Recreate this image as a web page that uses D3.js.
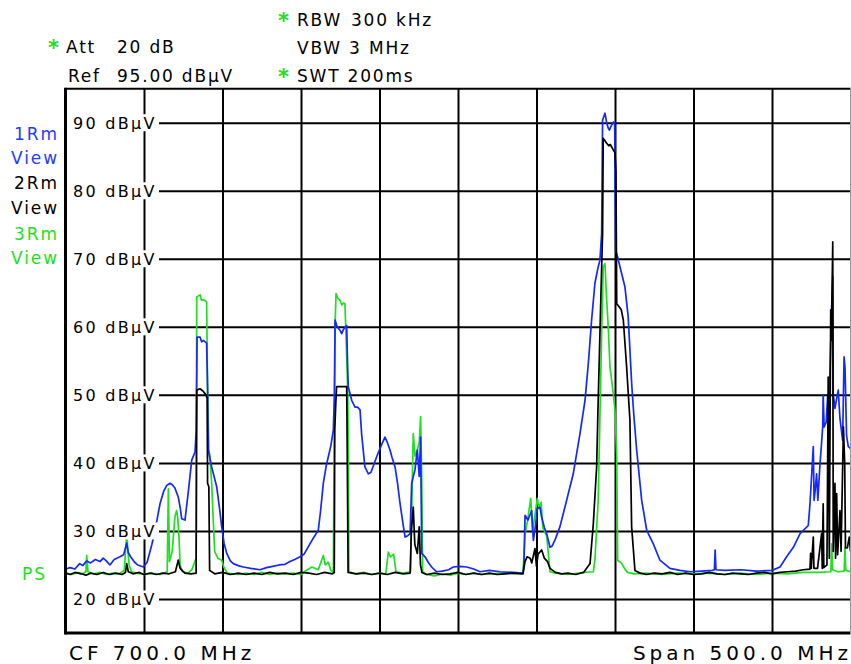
<!DOCTYPE html>
<html><head><meta charset="utf-8">
<script src="https://cdn.jsdelivr.net/npm/d3@7"></script>
<style>
body{margin:0;background:#fff;}
svg text{font-family:"DejaVu Sans",Verdana,sans-serif;}
</style></head><body>
<svg id="c" width="851" height="664"></svg>
<script>
// ---- data ----
const freqDomain = [450, 950];        // CF 700 MHz, span 500 MHz
const levelDomain = [15, 95];         // dBµV, Ref 95
const xGrid = [500, 550, 600, 650, 700, 750, 800, 850, 900];
const yTicks = [90, 80, 70, 60, 50, 40, 30, 20];
const yTickLabels = ["90 dBµV","80 dBµV","70 dBµV","60 dBµV","50 dBµV","40 dBµV","30 dBµV","20 dBµV"];

// Trace 1 (blue, 1Rm)
const blueFreq = [450,453,456,459,461,463.5,466,469,472,474,476,478.3,481,484.7,487,489,490,491.5,494,496,499.6,502,505,507,510.2,512.5,514.5,516.6,518,519.7,521.8,523,524,526.1,528.2,530.4,532.5,533.3,533.8,535.7,536.7,537.8,539.9,540.6,540.9,543.1,546.3,548,549.5,551,552.7,555,556.9,560,563.2,568,573.9,578,582,586,589.8,593,596,599.4,602,605.7,608,611,612.5,614.2,616,617.4,619,620.6,621.3,621.7,623,624.8,625.9,627,629.1,629.6,630.1,632.3,634.4,636,637.6,638.6,640.7,642.9,644.5,646,648.2,651,653.5,655,656.7,658,659.9,661.5,663.1,665,666.3,668,669.5,670.5,672.6,674.1,675.3,676.2,676.9,679,681,683.2,686.4,690,694,697,701,705.5,710,714,720,726.7,735,741.4,742,742.7,744.5,746.3,746.9,748,749.5,750.5,752.2,753.3,755,756.5,758.6,760,762,764.9,769.2,773.4,777.7,780.9,783,785.1,787.2,789,790.4,791.5,792.1,793.6,794.7,795.7,796.4,797.5,798.9,799.8,800.4,801.1,803.2,806.3,808.4,810.6,812,813.8,817,820.2,824.4,828.6,835,841.4,848,855,862,863.3,863.8,864.3,870,880,890,900,905.1,909.3,913.6,917.9,923.1,924.2,926.3,926.8,927.5,928.4,929.2,930.6,932.3,932.6,933.2,934.5,935.5,936.3,938,938.7,939,940.1,941.2,942.2,943.3,945,945.9,946.5,947.5,948.6,949.7,950];
const blueLevel = [24.4,24.6,24.4,25.2,24.9,25.6,25.3,25.8,25.5,26.0,25.6,25.0,25.8,26.2,26.5,28.2,26.8,26.2,25.4,25.0,24.7,25.4,28.0,30.0,34.0,35.8,36.7,37.0,36.8,36.3,35.0,33.5,31.8,31.6,35.7,40.4,41.6,45,58.5,58.5,57.8,58.0,57.6,50,41.9,39.4,36.5,33.5,30.6,28.2,26.7,25.6,25.2,24.9,24.7,24.5,24.3,24.6,24.8,25.0,25.1,25.5,25.8,26.2,26.6,28.1,29.0,30.1,33,37.0,39.5,40.9,42.5,44.8,50,61.0,60.0,59.5,59.0,59.6,60.2,55,51.2,49.2,48.2,48.2,47.8,44.3,39.4,38.4,38.6,39.5,40.9,42.5,43.8,43.0,41.9,40.8,39.4,37.0,34.0,31.0,29.1,29.3,29.6,37.0,39.0,41.9,38.0,43.8,26.7,26.2,25.4,24.7,24.0,24.1,24.3,24.7,24.8,24.7,24.4,24.0,24.2,24.0,23.9,23.8,25.0,32.3,31.6,32.6,33.0,28.6,31.0,33.2,33.5,32.0,30.5,29.6,27.6,27.8,28.8,30.6,34.5,38.4,44.3,49.2,54.6,61.0,66.4,68.5,69.8,73.7,90.4,91.4,90.0,89.2,88.9,89.5,90.1,90.0,71.0,70.8,68.8,65.9,61.5,51.7,47,41.9,34.5,30.1,28.1,25.7,24.5,24.2,24.0,24.1,24.2,24.3,27.2,24.3,24.2,24.3,24.1,24.2,24.7,26.2,27.6,29.6,30.8,34.0,42.4,34.5,36,38.4,34.5,39.9,45.3,50.0,45.3,46.0,50.0,47.5,62.9,67.4,50.2,48.0,49.5,50.7,46.5,43.3,55.6,54.0,44.0,42.4,42.2,42.0];

// Trace 2 (black, 2Rm)
const blackFreq = [450,453,456,460,463,466,470,474,478,482,486,488.2,489,490,493,497,500,504,508,512,516,520,521.8,523,526,530,533.2,533.6,535.7,537.8,539.5,540.2,540.5,541.3,541.8,545,550,555,560,565,570,575,580,585,590,595,600,605,610,615,620,621.2,621.5,622.2,622.7,626,629.1,629.4,630,635,640,645,650,655,660,665,669.5,670.3,671.5,672.5,674.1,675.3,676.1,677,680,685,690,695,700,705,710,715,720,725,730,735,741.4,742.7,744,746,747,749,750,751,753.3,755,757,758.6,762,766,770,775,780,784.1,786.2,788.3,789.3,790.4,791.5,792.1,792.5,794.7,796,797,798.9,800,800.6,801.1,802.5,804,805.3,807.4,809.5,810.6,812.7,816,820,825,830,835,840,845,850,855,860,865,870,875,880,885,890,895,900,905,910,915,920,924.2,924.6,925,926.3,926.7,929,931.6,932,932.6,933,935,935.8,936.5,937.4,937.8,938.7,939,940.1,940.5,941.2,941.8,943.3,944,945,945.5,946.3,946.8,948,949.2,950];
const blackLevel = [23.8,23.6,23.9,23.7,23.5,23.8,23.6,23.9,23.6,23.8,23.6,23.9,25.2,24.0,23.7,23.9,23.6,23.8,23.6,23.8,23.7,24.0,25.7,24.5,23.8,23.7,23.8,50.7,50.9,50.5,50.0,49.5,37.0,36.5,24.2,23.7,23.9,23.6,23.8,23.6,23.8,23.6,23.9,23.7,23.8,23.6,23.9,23.8,23.6,23.9,23.7,23.9,44.8,49,51.2,51.2,51.2,43.3,23.9,23.7,23.8,23.6,23.8,23.6,23.9,23.7,23.8,30,33.5,28.0,26.7,30.6,25.0,23.9,23.6,23.8,23.6,23.7,23.9,23.6,23.8,23.6,23.8,23.6,23.7,23.8,23.7,25.5,26.2,26.0,25.3,27.4,24.8,26.6,27.2,26.0,25.5,24.5,23.9,23.7,23.8,23.6,23.9,25.2,31.1,39.4,49.2,59.0,68.8,73.7,87.7,87.0,86.6,86.8,86.0,85.6,82.8,63.4,63.0,62.5,61.0,54.1,46.3,30.6,24.2,23.8,23.6,23.8,23.7,23.9,23.6,23.8,23.6,23.7,23.9,23.7,23.6,23.8,23.7,23.6,23.8,23.9,23.7,23.9,24.0,24.1,24.3,24.4,26.7,24.5,29.1,24.5,24.5,29.6,24.5,34.0,24.6,25,52.6,26,62.5,58,72.5,27,37.0,26,35.5,26.5,33.0,27,39.4,45.3,40,27.5,27.5,29.1,27];

// Trace 3 (green, 3Rm)
const greenFreq = [450,454,458,461,463,463.5,464.3,468,472,476,480,484,487.5,488.2,489,489.8,490.5,492,495,500,505,510,514.8,515.5,516.2,518,519.7,520.8,521.5,522.3,523,524.5,528,530.5,533.2,533.6,535.7,536.6,537.8,539.9,540.5,541.3,542,543.1,545,547,549.5,551,553,560,565,570,575,580,585,590,595,600,604,607,611,614.2,615.5,617.4,619,620.6,621.2,621.7,622.3,623.5,624.8,626,627,628,629.1,629.8,630.1,630.5,635,640,645,650,654,655.6,657,659,660.5,665,669.8,670.5,671.5,672.6,674.1,675.3,676.2,676.9,677.5,680,685,690,695,700,705,710,715,720,730,741.4,742.7,744.3,746.3,747.5,748.5,750.5,751.5,753,754,756.5,758.6,762,770,780,786.2,787.2,789.3,790.4,791.5,792.5,793.6,794.7,795.7,796.8,798.9,800,801.1,801.7,804,806,808,812,820,830,840,850,860,870,880,890,900,910,920,930,937.5,938,938.6,942,946,946.5,947,950];
const greenLevel = [23.8,23.6,23.9,23.7,24.0,26.4,24.0,23.7,23.9,23.6,23.8,23.7,24.2,27.0,29.5,27,25.0,24,23.8,23.6,23.8,23.6,24,36.2,25.5,27.0,32.1,33.0,32.0,29.0,25.0,24.0,23.8,24.3,26.0,64.4,64.7,63.9,64.0,63.7,50.2,42.0,41.0,37.0,27.0,26.0,25.7,24.6,23.8,23.6,23.8,23.6,23.9,23.6,23.8,23.7,23.8,23.6,24.3,24.7,24.3,26.4,25.0,25.4,24.2,24.0,45,60,64.9,64.2,63.9,63.2,63.5,63.4,55.6,50,43.8,24.0,23.7,23.9,23.6,23.8,23.7,26.9,26.2,26.6,24.0,23.8,24.0,32.6,44.3,41.0,41.9,43.0,46.8,37.5,24.0,23.6,23.4,23.7,23.5,23.8,23.6,23.8,23.6,23.7,23.8,23.7,29.6,31.5,34.8,30,31.5,34.8,33.5,34.2,30.5,29.3,24.0,23.8,23.6,23.9,24.0,25.7,34.5,46.8,59.0,68.8,69.3,63.9,60.0,54.1,50.2,47.7,40.9,25.7,25.3,24.5,23.9,23.7,23.8,23.6,23.8,23.7,23.8,23.6,23.8,23.6,23.8,23.7,23.9,23.9,24.0,28.1,24.3,24.0,24.1,27.6,24.2,24.0];

// ---- chart ----
const svg = d3.select("#c");
const L = 65.5, R = 850.5, T = 88.7, B = 633;
const x = d3.scaleLinear().domain(freqDomain).range([L, R]);
const y = d3.scaleLinear().domain(levelDomain).range([B, T]);

svg.append("rect").attr("width",851).attr("height",664).attr("fill","#fff");

// grid via axes
svg.append("g").attr("transform",`translate(0,${B})`)
  .call(d3.axisBottom(x).tickValues(xGrid).tickSize(-(B-T)).tickFormat(""))
  .call(g=>g.select(".domain").remove())
  .call(g=>g.selectAll("line").attr("stroke","#000").attr("stroke-width",2));
svg.append("g").attr("transform",`translate(${R},0)`)
  .call(d3.axisLeft(y).tickValues(yTicks).tickSize(R-L).tickFormat(""))
  .call(g=>g.select(".domain").remove())
  .call(g=>g.selectAll("line").attr("stroke","#000").attr("stroke-width",2));

// traces
svg.append("clipPath").attr("id","clip").append("rect")
  .attr("x",L).attr("y",T).attr("width",R-L).attr("height",B-T);
const line = d3.line().x(d=>x(d[0])).y(d=>y(d[1]));
const traces = [
  {f:greenFreq, v:greenLevel, c:"#1ee01e"},
  {f:blueFreq, v:blueLevel, c:"#1428ff"},
  {f:blackFreq, v:blackLevel, c:"#000"}
];
const tg = svg.append("g").attr("clip-path","url(#clip)");
traces.forEach(t=>{
  tg.append("path").datum(d3.zip(t.f,t.v))
    .attr("d",line).attr("fill","none").attr("stroke",t.c)
    .attr("stroke-width",1.7).attr("stroke-linejoin","round");
});

// y tick labels with white background
const lab = svg.append("g");
yTicks.forEach((v,i)=>{
  lab.append("rect").attr("x",L+1.5).attr("y",y(v)-8.5).attr("width",159-L-1.5).attr("height",17).attr("fill","#fff");
  lab.append("text").attr("x",73).attr("y",y(v)+6).attr("font-size",16)
    .attr("letter-spacing",2.3).attr("fill","#000").text(yTickLabels[i]);
});

// frame
svg.append("line").attr("x1",L).attr("x2",L).attr("y1",T-1).attr("y2",B+1.5).attr("stroke","#000").attr("stroke-width",3);
svg.append("line").attr("x1",L).attr("x2",R).attr("y1",T).attr("y2",T).attr("stroke","#000").attr("stroke-width",2);
svg.append("line").attr("x1",L).attr("x2",R).attr("y1",B).attr("y2",B).attr("stroke","#000").attr("stroke-width",3);
svg.append("line").attr("x1",R).attr("x2",R).attr("y1",T).attr("y2",B).attr("stroke","#999").attr("stroke-width",1);

// header
const green = "#1ee01e", blue = "#1e3cff";
function txt(xp, yp, s, col, size, ls, anchor){
  return svg.append("text").attr("x",xp).attr("y",yp).attr("font-size",size||17)
    .attr("letter-spacing",ls==null?1.8:ls).attr("fill",col||"#000")
    .attr("text-anchor",anchor||"start").text(s);
}
txt(48,55,"*",green,21,0).attr("font-weight","bold");
txt(66,53,"Att");
txt(117,53,"20 dB");
txt(68,81.5,"Ref");
txt(117,81.5,"95.00 dBµV");
txt(278,28,"*",green,21,0).attr("font-weight","bold");
txt(297,26,"RBW");
txt(351,26,"300 kHz");
txt(297,54,"VBW 3 MHz");
txt(278,83.5,"*",green,21,0).attr("font-weight","bold");
txt(297,81.5,"SWT 200ms");

// left trace labels
txt(59,140,"1Rm",blue,17,1.9,"end");
txt(59,164,"View",blue,17,1.9,"end");
txt(59,189,"2Rm","#000",17,1.9,"end");
txt(59,214,"View","#000",17,1.9,"end");
txt(59,240,"3Rm",green,17,1.9,"end");
txt(59,264,"View",green,17,1.9,"end");
txt(22,580,"PS",green,17,2);

// bottom
txt(69,660,"CF 700.0 MHz","#000",20,4.0);
txt(852,660,"Span 500.0 MHz","#000",20,4.0,"end");
</script></body></html>
